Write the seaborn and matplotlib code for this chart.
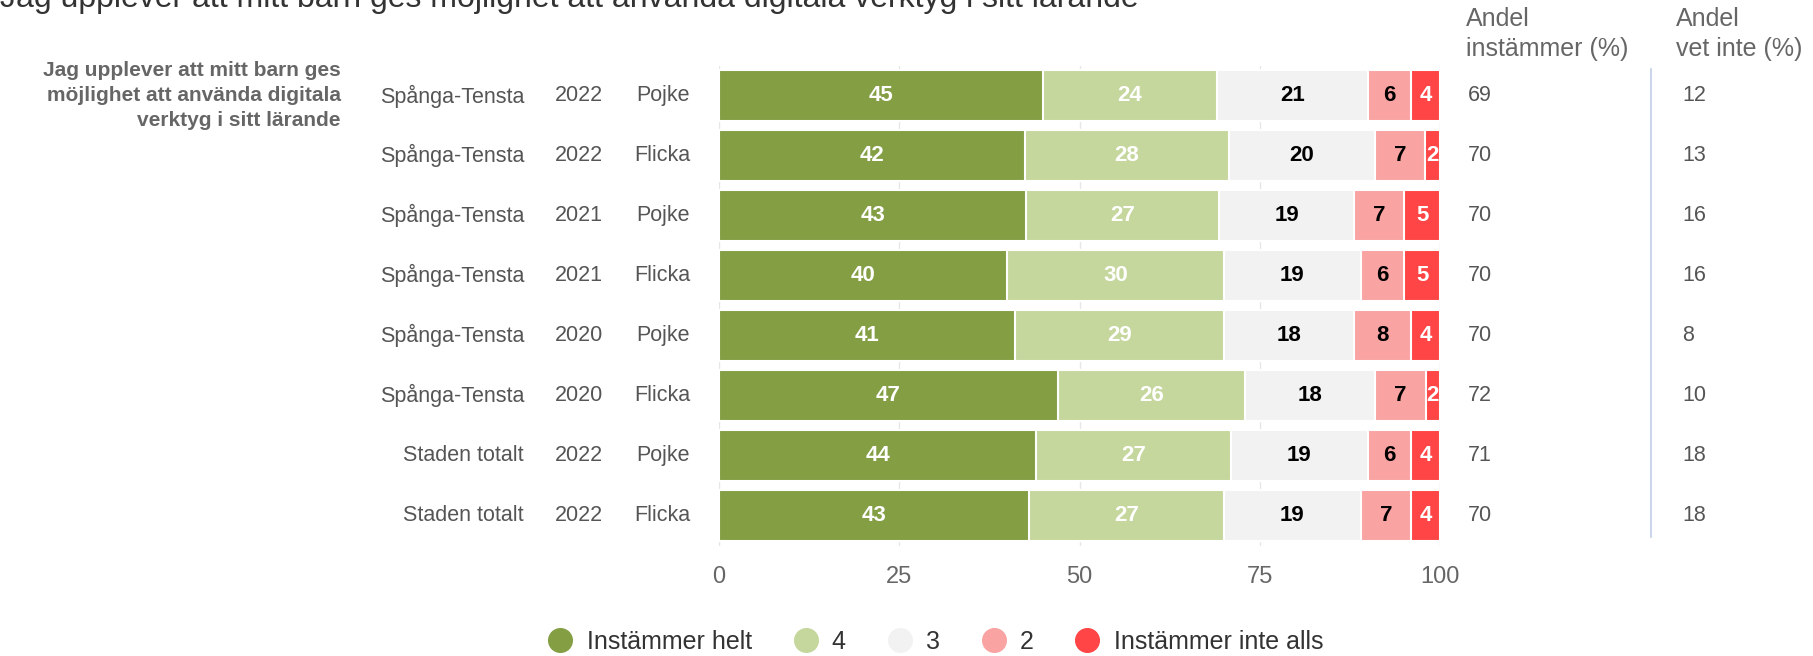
import numpy as np
import pandas as pd
import seaborn as sns
import matplotlib.pyplot as plt
from matplotlib.lines import Line2D
from matplotlib.transforms import blended_transform_factory

regions = ['Spånga-Tensta'] * 6 + ['Staden totalt'] * 2
years = ['2022', '2022', '2021', '2021', '2020', '2020', '2022', '2022']
genders = ['Pojke', 'Flicka', 'Pojke', 'Flicka', 'Pojke', 'Flicka', 'Pojke', 'Flicka']

helt = [45, 42, 43, 40, 41, 47, 44, 43]
fyra = [24, 28, 27, 30, 29, 26, 27, 27]
tre = [21, 20, 19, 19, 18, 18, 19, 19]
tva = [6, 7, 7, 6, 8, 7, 6, 7]
inte_alls = [4, 2, 5, 5, 4, 2, 4, 4]

andel_instammer = [69, 70, 70, 70, 70, 72, 71, 70]
andel_vet_inte = [12, 13, 16, 16, 8, 10, 18, 18]

levels = ['Instämmer helt', '4', '3', '2', 'Instämmer inte alls']
colors = ['#839e43', '#c5d79d', '#f2f2f2', '#f9a3a3', '#ff4545']
label_colors = ['white', 'white', 'black', 'black', 'white']

df = pd.DataFrame({'row': [str(i) for i in range(len(helt))],
                   'Instämmer helt': helt, '4': fyra, '3': tre, '2': tva,
                   'Instämmer inte alls': inte_alls})
# rows don't always add up to 100 after rounding, scale them so bars fill the axis
total = df[levels].sum(axis=1)
for lvl in levels:
    df['w_' + lvl] = df[lvl] * 100 / total
cum = df[['w_' + l for l in levels]].cumsum(axis=1)
for lvl, c in zip(levels, cum.columns):
    df['cum_' + lvl] = cum[c]

sns.set_theme(style='white')
plt.rcParams['font.family'] = ['Liberation Sans', 'DejaVu Sans']

fig = plt.figure(figsize=(18.13, 6.56), dpi=100)
ax = fig.add_axes([0.3966, 0.1683, 0.3977, 0.7311])

# stacked bars: draw the cumulative sums from the back to the front
for lvl, col in reversed(list(zip(levels, colors))):
    sns.barplot(data=df, x='cum_' + lvl, y='row', orient='h', color=col,
                saturation=1, width=0.85, edgecolor='white', linewidth=1.5,
                errorbar=None, ax=ax)

# numbers inside the segments
for i in range(len(df)):
    start = 0
    for lvl, tc in zip(levels, label_colors):
        w = df.loc[i, 'w_' + lvl]
        ax.text(start + w / 2, i, str(df.loc[i, lvl]), ha='center', va='center',
                color=tc, fontsize=16, fontweight='bold')
        start += w

ax.set_xlim(0, 100)
ax.set_ylim(len(df) - 0.5, -0.5)
ax.set_xticks([0, 25, 50, 75, 100])
ax.set_axisbelow(True)
ax.xaxis.grid(True, color='#e6e6e6', linewidth=1)
ax.tick_params(axis='x', length=0, labelsize=17, labelcolor='#666666', pad=15)
ax.set_yticks([])
ax.set_yticks(np.arange(-0.5, len(df), 1), minor=True)
ax.tick_params(axis='y', which='minor', length=9, width=2, color='#ccd6eb')
ax.set_xlabel('')
ax.set_ylabel('')
for s in ax.spines.values():
    s.set_visible(False)

# row labels and side columns
tr = blended_transform_factory(fig.transFigure, ax.transData)
for i in range(len(df)):
    ax.text(0.289, i, regions[i], transform=tr, ha='right', va='center', fontsize=15.5, color='#555555')
    ax.text(0.3195, i, years[i], transform=tr, ha='center', va='center', fontsize=15.5, color='#555555')
    ax.text(0.3807, i, genders[i], transform=tr, ha='right', va='center', fontsize=15.5, color='#555555')
    ax.text(0.8097, i, str(andel_instammer[i]), transform=tr, ha='left', va='center', fontsize=15.5, color='#555555')
    ax.text(0.9278, i, str(andel_vet_inte[i]), transform=tr, ha='left', va='center', fontsize=15.5, color='#555555')

ax.text(0.188, 0, 'Jag upplever att mitt barn ges\nmöjlighet att använda digitala\nverktyg i sitt lärande',
        transform=tr, ha='right', va='center', fontsize=15, fontweight='bold', color='#666666',
        linespacing=1.4)

fig.text(0.8086, 0.907, 'Andel\ninstämmer (%)', ha='left', va='bottom', fontsize=18, color='#666666', linespacing=1.3)
fig.text(0.9245, 0.907, 'Andel\nvet inte (%)', ha='left', va='bottom', fontsize=18, color='#666666', linespacing=1.3)
fig.add_artist(Line2D([0.9106, 0.9106], [1 - 69 / 656, 1 - 537 / 656], color='#ccd6eb', linewidth=1.5))

# title, partly cut off at the top like in the original
fig.text(0.0, 1 - 7 / 656, 'Jag upplever att mitt barn ges möjlighet att använda digitala verktyg i sitt lärande',
         ha='left', va='baseline', fontsize=23, color='#333333')

handles = [Line2D([], [], marker='o', linestyle='', markersize=17, color=c) for c in colors]
fig.legend(handles, levels, loc='center', bbox_to_anchor=(0.516, 0.021), ncol=5, frameon=False,
           fontsize=18, labelcolor='#333333', handletextpad=0.55, columnspacing=1.65, handlelength=1)

fig.savefig('out.png', dpi=100)
